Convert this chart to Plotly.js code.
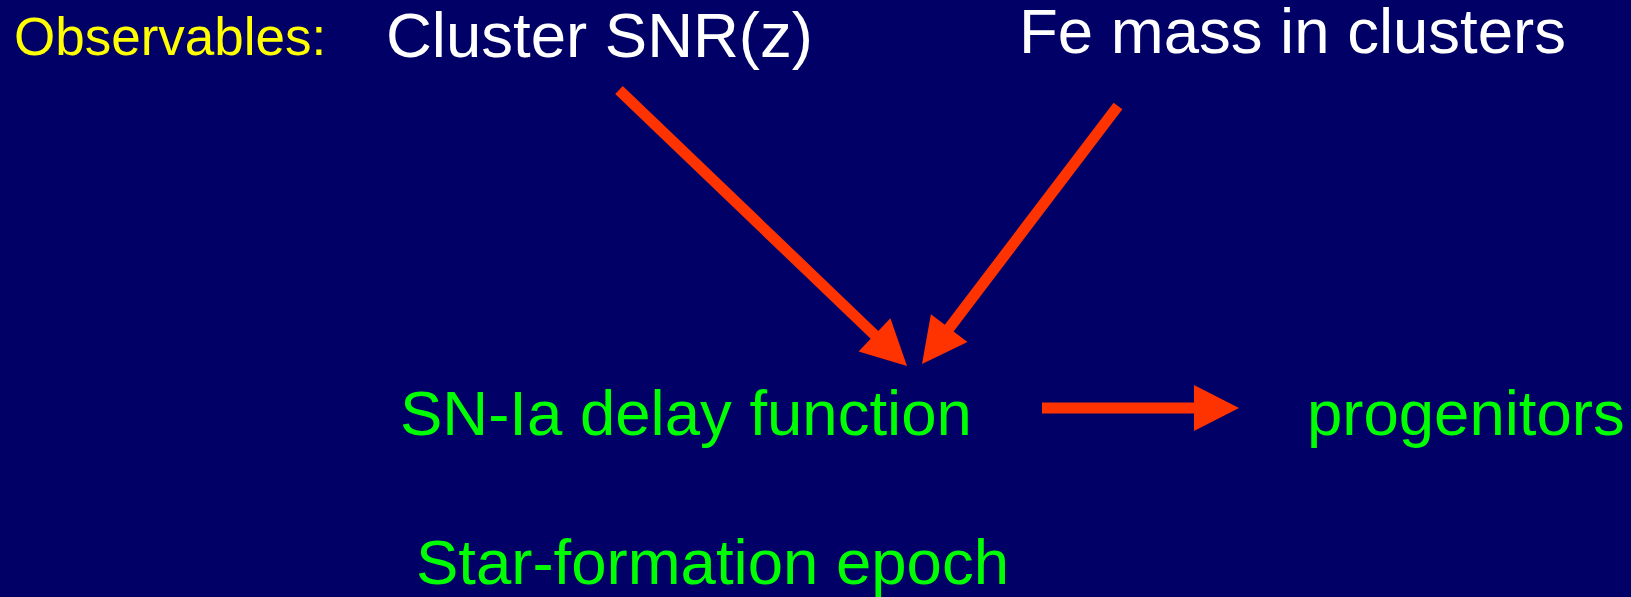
<!DOCTYPE html>
<html>
<head>
<meta charset="utf-8">
<script src="https://cdn.plot.ly/plotly-3.0.1.min.js"></script>
<style>html,body{margin:0;padding:0;background:#000066;}#chart{width:1631px;height:597px;}</style>
</head>
<body>
<div id="chart"></div>
<script>
// ---- content ----
var labels = ["Observables:", "Cluster SNR(z)", "Fe mass in clusters", "SN-Ia delay function", "progenitors", "Star-formation epoch"];
var labelRole = ["heading", "observable", "observable", "derived", "derived", "derived"];
// arrows: from label -> to label
var arrowFrom = ["Cluster SNR(z)", "Fe mass in clusters", "SN-Ia delay function"];
var arrowTo = ["SN-Ia delay function", "SN-Ia delay function", "progenitors"];

// ---- layout (pixel positions on a 1631x597 canvas) ----
var labelPos = {
  "Observables:": {x: 12, base: 56, size: 53},
  "Cluster SNR(z)": {x: 384, base: 58, size: 63.5},
  "Fe mass in clusters": {x: 1017, base: 54, size: 63.5},
  "SN-Ia delay function": {x: 398, base: 436, size: 63.5},
  "progenitors": {x: 1305, base: 436, size: 63.5},
  "Star-formation epoch": {x: 414, base: 585, size: 63.5}
};
var arrowGeom = [
  {start: [619, 90], tip: [907, 366]},
  {start: [1118, 106], tip: [922, 364]},
  {start: [1042, 408], tip: [1239, 408]}
];
var roleColor = {heading: "#FFFF00", observable: "#FFFFFF", derived: "#00FF00"};
var ARROW_COLOR = "#FF3300", SHAFT_W = 11, HEAD_L = 45, HEAD_W = 46;

var annotations = labels.map(function (t, i) {
  var p = labelPos[t];
  return {
    x: p.x, y: p.base - 0.36 * p.size, xref: "x", yref: "y",
    xanchor: "left", yanchor: "middle", showarrow: false,
    text: t,
    font: {family: "Liberation Sans, Arial, Helvetica, sans-serif", size: p.size, color: roleColor[labelRole[i]]}
  };
});

var shapes = arrowGeom.map(function (g) {
  var dx = g.tip[0] - g.start[0], dy = g.tip[1] - g.start[1];
  var L = Math.sqrt(dx * dx + dy * dy), ux = dx / L, uy = dy / L, nx = -uy, ny = ux;
  var bx = g.tip[0] - ux * HEAD_L, by = g.tip[1] - uy * HEAD_L;
  var pts = [
    [g.start[0] + nx * SHAFT_W / 2, g.start[1] + ny * SHAFT_W / 2],
    [bx + nx * SHAFT_W / 2, by + ny * SHAFT_W / 2],
    [bx + nx * HEAD_W / 2, by + ny * HEAD_W / 2],
    [g.tip[0], g.tip[1]],
    [bx - nx * HEAD_W / 2, by - ny * HEAD_W / 2],
    [bx - nx * SHAFT_W / 2, by - ny * SHAFT_W / 2],
    [g.start[0] - nx * SHAFT_W / 2, g.start[1] - ny * SHAFT_W / 2]
  ];
  var path = "M" + pts.map(function (p) { return p[0].toFixed(1) + "," + p[1].toFixed(1); }).join(" L") + " Z";
  return {type: "path", xref: "x", yref: "y", path: path, fillcolor: ARROW_COLOR, line: {width: 0}};
});

var layout = {
  width: 1631, height: 597,
  margin: {l: 0, r: 0, t: 0, b: 0, pad: 0},
  paper_bgcolor: "#000066", plot_bgcolor: "#000066",
  xaxis: {range: [0, 1631], visible: false, fixedrange: true},
  yaxis: {range: [597, 0], visible: false, fixedrange: true},
  showlegend: false,
  annotations: annotations,
  shapes: shapes
};

Plotly.newPlot("chart", [{x: [], y: [], type: "scatter", mode: "markers", hoverinfo: "skip"}], layout, {staticPlot: true, displayModeBar: false});
</script>
</body>
</html>
